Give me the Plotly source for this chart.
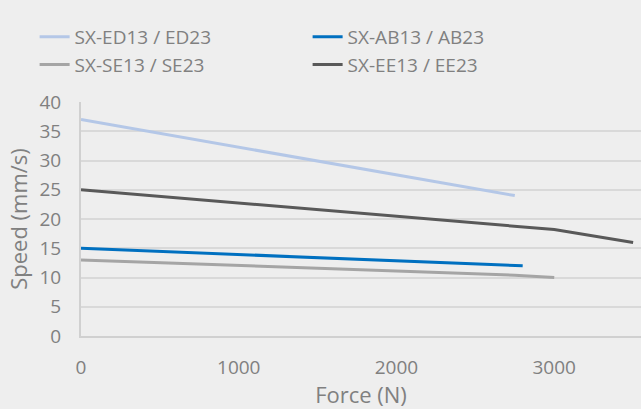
import plotly.graph_objects as go

names = ["SX-ED13 / ED23", "SX-AB13 / AB23", "SX-SE13 / SE23", "SX-EE13 / EE23"]
force = {
    "SX-ED13 / ED23": [0, 2750],
    "SX-AB13 / AB23": [0, 2800],
    "SX-SE13 / SE23": [0, 2750, 3000],
    "SX-EE13 / EE23": [0, 2750, 3000, 3500],
}
speed = {
    "SX-ED13 / ED23": [37, 24],
    "SX-AB13 / AB23": [15, 12],
    "SX-SE13 / SE23": [13, 10.4, 10],
    "SX-EE13 / EE23": [25, 18.7, 18.2, 16],
}
colors = {
    "SX-ED13 / ED23": "#b4c7e7",
    "SX-AB13 / AB23": "#0070c0",
    "SX-SE13 / SE23": "#a5a5a5",
    "SX-EE13 / EE23": "#595959",
}
x_ticks = [0, 1000, 2000, 3000]
y_ticks = [0, 5, 10, 15, 20, 25, 30, 35, 40]

fig = go.Figure()
for n in names:
    fig.add_trace(go.Scatter(x=force[n], y=speed[n], mode="lines", name=n,
                             line=dict(color=colors[n], width=3)))

font_family = "Open Sans, Noto Sans, sans-serif"
fig.update_layout(
    width=641, height=409,
    paper_bgcolor="#eeeeee", plot_bgcolor="#eeeeee",
    margin=dict(l=81, r=0, t=102, b=73, autoexpand=False),
    font=dict(family=font_family, size=18, color="#808080"),
    legend=dict(orientation="h", xref="container", yref="container",
                x=0.054, y=0.956, xanchor="left", yanchor="top",
                entrywidth=228, entrywidthmode="pixels",
                font=dict(size=19, color="#808080"), bgcolor="rgba(0,0,0,0)",
                tracegroupgap=0, itemwidth=30),
    showlegend=True,
)
fig.update_xaxes(range=[0, 3550], tickvals=x_ticks, showgrid=False, zeroline=False,
                 showline=True, linecolor="#d0d0d0", linewidth=2,
                 title=dict(text="Force (N)", standoff=7),
                 ticks="outside", ticklen=13, tickcolor="rgba(0,0,0,0)",
                 tickfont=dict(size=19))
fig.update_yaxes(range=[0, 40], tickvals=y_ticks, showgrid=True, gridcolor="#d9d9d9",
                 gridwidth=2, zeroline=False, showline=True, linecolor="#d0d0d0", linewidth=2,
                 title=dict(text="Speed (mm/s)", standoff=6),
                 ticks="outside", ticklen=14, tickcolor="rgba(0,0,0,0)",
                 tickfont=dict(size=19))
fig.write_html("out.html", config={"displayModeBar": False},
               post_script="document.body.style.margin='0px';")
